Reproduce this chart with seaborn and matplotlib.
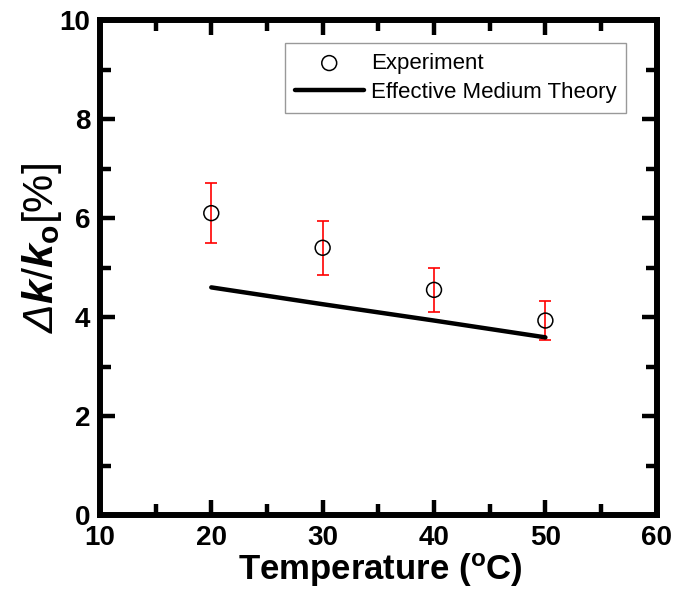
import matplotlib
matplotlib.use("Agg")
import matplotlib.pyplot as plt
from matplotlib.ticker import MultipleLocator
import seaborn as sns
import pandas as pd

# Measured thermal conductivity enhancement vs. temperature
temperature = [20, 30, 40, 50]
experiment = [6.10, 5.40, 4.55, 3.93]
experiment_err = [0.60, 0.55, 0.45, 0.39]

# Effective medium theory prediction
theory_temperature = [20, 30, 40, 50]
theory = [4.60, 4.26, 3.93, 3.59]

exp_df = pd.DataFrame({"T": temperature, "dk": experiment, "err": experiment_err})
emt_df = pd.DataFrame({"T": theory_temperature, "dk": theory})

sns.set_theme(style="ticks")
plt.rcParams["font.family"] = ["Liberation Sans", "DejaVu Sans"]
plt.rcParams["mathtext.fontset"] = "custom"
plt.rcParams["mathtext.rm"] = "Liberation Sans"
plt.rcParams["mathtext.sf"] = "Liberation Sans:italic"
plt.rcParams["mathtext.it"] = "Liberation Sans:italic:bold"
plt.rcParams["mathtext.bf"] = "Liberation Sans:bold"
for key in ["text.color", "axes.labelcolor", "xtick.color", "ytick.color",
            "axes.edgecolor"]:
    plt.rcParams[key] = "black"

fig = plt.figure(figsize=(6.75, 5.92), dpi=100)
ax = fig.add_axes([0.148, 0.130, 0.825, 0.836])

# error bars first, then the open circles on top
ax.errorbar(exp_df["T"], exp_df["dk"], yerr=exp_df["err"], fmt="none",
            ecolor="#ff0000", elinewidth=1.2, capsize=4.5, capthick=1.2, zorder=2)
sns.scatterplot(data=exp_df, x="T", y="dk", ax=ax, marker="o", s=115,
                facecolor="none", edgecolor="black", linewidth=1.1,
                label="Experiment", zorder=3)
sns.lineplot(data=emt_df, x="T", y="dk", ax=ax, color="black", linewidth=3.2,
             label="Effective Medium Theory", zorder=2)

ax.set_xlim(10, 60)
ax.set_ylim(0, 10)
ax.xaxis.set_major_locator(MultipleLocator(10))
ax.xaxis.set_minor_locator(MultipleLocator(5))
ax.yaxis.set_major_locator(MultipleLocator(2))
ax.yaxis.set_minor_locator(MultipleLocator(1))

for side in ["left", "right", "top", "bottom"]:
    ax.spines[side].set_visible(True)
    ax.spines[side].set_linewidth(4.3)
    ax.spines[side].set_color("black")

ax.tick_params(which="both", direction="in", top=True, right=True,
               width=3.2, color="black")
ax.tick_params(which="major", length=10.5, labelsize=20, pad=7)
ax.tick_params(which="minor", length=8)
for lbl in ax.get_xticklabels() + ax.get_yticklabels():
    lbl.set_fontweight("bold")

ax.set_xlabel(r"Temperature ($^{\mathbf{o}}$C)", fontsize=25, fontweight="bold")
ax.set_ylabel(r"$\mathsf{Δ}\mathit{k/k}_{\mathbf{o}}\mathrm{[\%]}$", fontsize=31)
ax.xaxis.set_label_coords(0.504, -0.074)
ax.yaxis.set_label_coords(-0.064, 0.54)

leg = ax.legend(loc="upper left", bbox_to_anchor=(0.332, 0.954), borderaxespad=0,
                fontsize=16, frameon=True, fancybox=False, handlelength=3.1,
                handletextpad=0.32, borderpad=0.45, labelspacing=0.35)
leg.get_frame().set_edgecolor("#808080")
leg.get_frame().set_linewidth(1.0)

fig.savefig("out.png", dpi=100)
